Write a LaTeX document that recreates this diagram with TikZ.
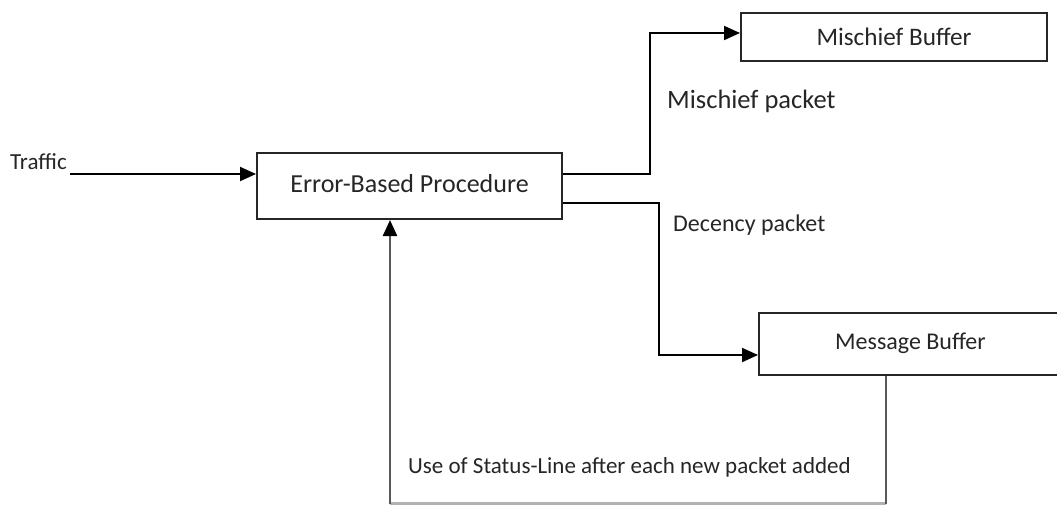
\documentclass[tikz,border=0pt]{standalone}
\usepackage{fontspec}
\setmainfont{Carlito}
\usetikzlibrary{arrows.meta}
\definecolor{txt}{HTML}{262626}
\tikzset{
  box/.style={draw=black!85, line width=2pt, fill=white, inner sep=0pt, font=\fontsize{24}{26}\selectfont, text=txt},
  lbl/.style={inner sep=0pt, text=txt, font=\fontsize{23}{26}\selectfont},
  arr/.style={draw=black, line width=2pt, -{Triangle[length=16pt,width=14pt]}},
  fb/.style={draw=black!65, line width=2.4pt},
}
\begin{document}
\begin{tikzpicture}[x=1pt,y=-1pt]
\useasboundingbox[fill=white] (0,0) rectangle (1057,504);
% nodes
\node[box, minimum width=305pt, minimum height=66pt, font=\fontsize{26}{28}\selectfont] (err) at (409.5,186) {\raisebox{6pt}{Error-Based Procedure}};
\node[box, minimum width=306pt, minimum height=48pt, font=\fontsize{25.2}{28}\selectfont] (mis) at (894,36.5) {Mischief Buffer};
\node[box, minimum width=303pt, minimum height=62pt] (msg) at (910.5,344) {\raisebox{5pt}{Message Buffer}};
\node[lbl, anchor=west] (traffic) at (10,162) {Traffic};
\node[lbl, anchor=west, font=\fontsize{26.5}{28}\selectfont] (mpk) at (667,101) {Mischief packet};
\node[lbl, anchor=west, font=\fontsize{24}{26}\selectfont] (dpk) at (673,225) {Decency packet};
\node[lbl, anchor=west] (status) at (408,467) {Use of Status-Line after each new packet added};
% connectors
\coordinate (tstart) at (70,174);
\draw[arr] (tstart) -- (tstart -| err.west);
\draw[arr] (err.east |- 0,174) -- (650,174) -- (650,33) -- (mis.west |- 0,33);
\draw[arr] (err.east |- 0,203) -- (659,203) -- (659,355) -- (msg.west |- 0,355);
\coordinate (fbR) at (886,503.5);
\coordinate (fbL) at (390,503.5);
\draw[draw=black!30, line width=2.4pt] (fbR) -- (fbL);
\draw[fb] (msg.south -| fbR) -- (fbR);
\draw[fb, -{Triangle[length=16pt,width=14pt,color=black]}] (fbL) -- (err.south -| fbL);
\end{tikzpicture}
\end{document}
